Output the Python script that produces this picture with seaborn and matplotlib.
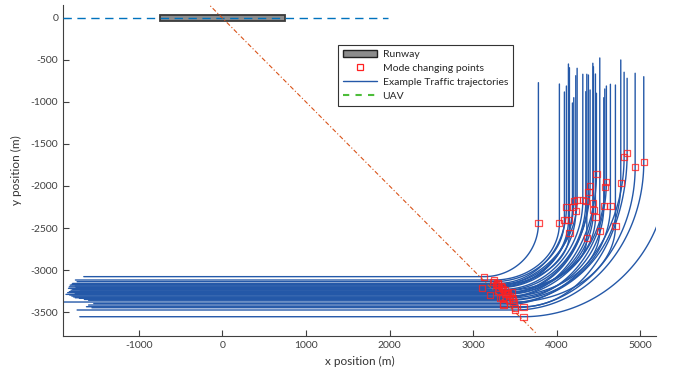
import matplotlib
matplotlib.use("Agg")
import matplotlib.pyplot as plt
from matplotlib.patches import Rectangle, Patch
from matplotlib.lines import Line2D
import seaborn as sns
import numpy as np
import pandas as pd

# traffic trajectories (m)
# straight leg at y0 from x0 to xturn, then a turn ending at (xvert, yvert), then north up to ytop
traj_y0 = [-3079, -3119, -3139, -3160, -3170, -3180, -3190, -3200, -3210, -3218,
           -3230, -3240, -3250, -3258, -3270, -3280, -3290, -3298, -3310, -3320,
           -3330, -3337, -3350, -3360, -3381, -3400, -3417, -3437, -3449, -3476,
           -3556]
traj_x0 = [-1657, -1757, -1737, -1790, -1800, -1820, -1760, -1830, -1750, -1840,
           -1790, -1810, -1700, -1830, -1850, -1760, -1870, -1825, -1800, -1780,
           -1760, -1710, -1650, -1600, -2000, -1538, -1600, -1625, -1560, -1737,
           -1705]
traj_xturn = [3130, 3250, 3240, 3290, 3300, 3275, 3330, 3340, 3310, 3104,
              3360, 3380, 3300, 3462, 3400, 3420, 3380, 3203, 3440, 3350,
              3460, 3323, 3480, 3430, 3482, 3362, 3362, 3601, 3500, 3502,
              3601]
traj_xvert = [3780, 4031, 4091, 4115, 4139, 4151, 4187, 4203, 4227, 4243,
              4311, 4347, 4359, 4378, 4398, 4431, 4438, 4462, 4474, 4514,
              4562, 4574, 4593, 4641, 4701, 4765, 4805, 4841, 4937, 5040,
              5320]
traj_yvert = [-2444, -2444, -2405, -2254, -2405, -2563, -2254, -2179, -2301, -2167,
              -2167, -2179, -2623, -2068, -1996, -2206, -2286, -2373, -1861, -2532,
              -2235, -2008, -1949, -2238, -2476, -1968, -1651, -1611, -1777, -1718,
              -1837]
traj_ytop = [-770, -786, -881, -810, -548, -592, -1012, -949, -687, -599,
             -670, -877, -670, -679, -857, -539, -580, -667, -896, -476,
             -949, -845, -810, -789, -798, -500, -646, -718, -658, -699,
             -700]

runway_x = [-750, 750]
runway_y = [-35, 35]
uav_x = [-1905, 1980]
uav_y = [0, 0]
heading_x = [-200, 3760]
heading_y = [200, -3760]

rows = []
pts = []
for i in range(len(traj_y0)):
    y0, x0, xt = traj_y0[i], traj_x0[i], traj_xturn[i]
    xv, yv, yt = traj_xvert[i], traj_yvert[i], traj_ytop[i]
    t = np.linspace(0, np.pi / 2, 80)
    xs = np.concatenate([[x0], xt + (xv - xt) * np.sin(t), [xv]])
    ys = np.concatenate([[y0], y0 + (yv - y0) * (1 - np.cos(t)), [yt]])
    for k in range(len(xs)):
        rows.append((i, k, xs[k], ys[k]))
    pts.append((xt, y0))
    pts.append((xv, yv))

traj = pd.DataFrame(rows, columns=["id", "k", "x", "y"])
modes = pd.DataFrame(pts, columns=["x", "y"])

sns.set_style("ticks")
plt.rcParams["font.family"] = ["Lato", "DejaVu Sans"]
plt.rcParams["axes.unicode_minus"] = False

fig = plt.figure(figsize=(6.78, 3.81), dpi=100)
ax = fig.add_axes([0.093, 0.118, 0.875, 0.869])

ax.add_patch(Rectangle((runway_x[0], runway_y[0]), runway_x[1] - runway_x[0],
                       runway_y[1] - runway_y[0], facecolor="#8c8c8c",
                       edgecolor="#3a3a3a", linewidth=1.3, zorder=2))
ax.plot(uav_x, uav_y, linestyle=(0, (6, 4)), color="#0072BD", linewidth=1.0, zorder=3)

sns.lineplot(data=traj, x="x", y="y", units="id", estimator=None, sort=False,
             color="#2458a8", linewidth=1.0, ax=ax, zorder=2)

ax.plot(heading_x, heading_y, linestyle=(0, (4, 2, 1, 2)), color="#D95319",
        linewidth=0.8, zorder=3)

sns.scatterplot(data=modes, x="x", y="y", marker="s", s=20, facecolor="none",
                edgecolor="#ff2020", linewidth=0.9, alpha=0.8, ax=ax, zorder=4)

ax.set_xlim(-1905, 5190)
ax.set_ylim(-3786, 155)
ax.set_xticks(range(-1000, 5001, 1000))
ax.set_yticks(range(-3500, 1, 500))
ax.tick_params(direction="in", length=4, width=0.8, colors="#404040", labelsize=7.5,
               labelcolor="#404040")
for s in ["top", "right"]:
    ax.spines[s].set_visible(False)
for s in ["left", "bottom"]:
    ax.spines[s].set_color("#404040")
    ax.spines[s].set_linewidth(0.8)
ax.set_xlabel("x position (m)", fontsize=8.5, color="#333333")
ax.set_ylabel("y position (m)", fontsize=8.5, color="#333333", labelpad=6)

handles = [
    Patch(facecolor="#8c8c8c", edgecolor="#222222", linewidth=1.0, label="Runway"),
    Line2D([], [], linestyle="none", marker="s", markersize=4, markerfacecolor="none",
           markeredgecolor="#ff2020", markeredgewidth=0.9, label="Mode changing points"),
    Line2D([], [], color="#2458a8", linewidth=1.0, label="Example Traffic trajectories"),
    Line2D([], [], color="#4dbd3a", linewidth=1.5, linestyle=(0, (3, 3)), label="UAV"),
]
leg = ax.legend(handles=handles, loc="upper left", bbox_to_anchor=(0.464, 0.879),
                borderaxespad=0, fontsize=7.5, frameon=True, fancybox=False,
                framealpha=1, edgecolor="#333333", handlelength=3.3, borderpad=0.45,
                labelspacing=0.45, handletextpad=0.5)
leg.get_frame().set_linewidth(0.8)

fig.savefig("out.png", dpi=100)
